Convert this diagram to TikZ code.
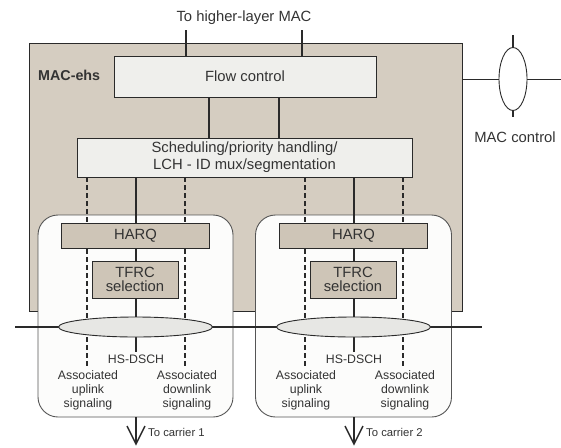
\documentclass[tikz,border=0pt]{standalone}
\usepackage{fontspec}
\setmainfont{Liberation Sans}
\usetikzlibrary{shapes.geometric}

\definecolor{ehsfill}{HTML}{D5CDC1}
\definecolor{unitfill}{HTML}{CEC5B7}
\definecolor{ctrlfill}{HTML}{EFEFEC}
\definecolor{lensfill}{HTML}{E7E7E4}
\definecolor{carrierfill}{HTML}{FCFCFB}
\definecolor{ink}{HTML}{2A2A2A}
\definecolor{txt}{HTML}{333333}

\tikzset{
  box/.style={draw=ink, line width=0.9pt, inner sep=0pt, outer sep=0pt, text=txt,
              font=\fontsize{14.8}{17}\selectfont, align=center},
  ctrlbox/.style={box, fill=ctrlfill},
  unitbox/.style={box, fill=unitfill},
  carrierbox/.style={draw=ink!80, line width=0.9pt, fill=carrierfill, rounded corners=20pt,
                     inner sep=0pt, outer sep=0pt},
  lens/.style={ellipse, draw=ink, line width=0.9pt, fill=lensfill, inner sep=0pt, outer sep=0pt},
  heavy/.style={draw=ink, line width=2.6pt},
  chan/.style={draw=ink, line width=1.4pt},
  sig/.style={draw=ink, line width=1.3pt, dash pattern=on 5pt off 3pt},
  bus/.style={draw=ink, line width=1.4pt},
  small/.style={text=txt, font=\fontsize{12.3}{14}\selectfont, align=center, inner sep=0pt},
  label/.style={text=txt, font=\fontsize{14.8}{17}\selectfont, inner sep=0pt},
  down/.style={draw=ink, line width=1.5pt},
  barb/.style={draw=ink, line width=1.5pt, line join=miter},
}

\begin{document}
\begin{tikzpicture}[x=1pt,y=-1pt]
\useasboundingbox (0,0) rectangle (561,447);

% MAC-ehs entity
\node[draw=ink, line width=0.9pt, fill=ehsfill, anchor=north west, minimum width=433pt,
      minimum height=268pt, inner sep=0pt, outer sep=0pt] (ehs) at (29,43) {};

% per-carrier blocks
\node[carrierbox, minimum width=195pt, minimum height=202pt] (c1) at (135.5,316) {};
\node[carrierbox, minimum width=196pt, minimum height=202pt] (c2) at (353.5,316) {};

% MAC control
\coordinate (mcR) at (561,79);
\coordinate (mcT) at (513,35);
\coordinate (mcB) at (513,117);
\draw[bus, line width=1pt] (ehs.east |- mcR) -- (mcR);
\node[lens, fill=white, minimum width=28pt, minimum height=63pt] (mc) at (513,79) {};
\draw[bus, line width=1.3pt] (mcT) -- (mc.north);
\draw[bus, line width=1.3pt] (mc.south) -- (mcB);
\node[label] (mclab) at (515,137) {MAC control};

% header and upper blocks
\node[label] (top) at (244,18) {To higher-layer MAC};
\node[label, font=\bfseries\fontsize{14.3}{17}\selectfont, anchor=west] (ehslab) at (38,75) {MAC-ehs};

\node[ctrlbox, minimum width=262pt, minimum height=41pt] (flow) at (245,76.5) {Flow control};
\node[ctrlbox, minimum width=335pt, minimum height=39pt] (sched) at (244.5,157.5)
     {Scheduling/priority handling/\\LCH - ID mux/segmentation};

\coordinate (up1) at (186,30);
\coordinate (up2) at (302,30);
\draw[heavy] (up1) -- (up1 |- flow.north);
\draw[heavy] (up2) -- (up2 |- flow.north);
\coordinate (fs1) at (209,0);
\coordinate (fs2) at (279,0);
\draw[heavy] (flow.south -| fs1) -- (sched.north -| fs1);
\draw[heavy] (flow.south -| fs2) -- (sched.north -| fs2);

% carrier bus line
\coordinate (busL) at (15,327);
\coordinate (busR) at (482,327);
\draw[bus] (busL) -- (busR);

% channels down through each carrier block
\foreach \n/\cx in {1/136, 2/354} {
  \coordinate (ul\n) at (\cx-49,368);
  \coordinate (hs\n) at (\cx,352);
  \coordinate (dl\n) at (\cx+49,368);
  \draw[sig]  (sched.south -| ul\n) -- (ul\n);
  \draw[sig]  (sched.south -| dl\n) -- (dl\n);
  \draw[chan] (sched.south -| hs\n) -- (hs\n);
  \node[unitbox, minimum width=148pt, minimum height=25pt] (harq\n) at (\cx-0.5,235.5) {HARQ};
  \node[unitbox, minimum width=86pt, minimum height=37pt] (tfrc\n) at (\cx-1,279.5) {TFRC\\[-3pt]selection};
  \node[lens, minimum width=154pt, minimum height=20pt] (mux\n) at (\cx-0.5,327) {};
  \node[small] (hslab\n) at (\cx,359) {HS-DSCH};
  \node[small] (ullab\n) at (\cx-48,390) {Associated\\uplink\\signaling};
  \node[small] (dllab\n) at (\cx+51,390) {Associated\\downlink\\signaling};
  % open V arrow towards the carrier
  \coordinate (tip\n) at (\cx,444);
  \draw[down] (c\n.south -| tip\n) -- (tip\n);
  \draw[barb] (tip\n) ++(-9,-18) -- (tip\n) -- ++(9,-18);
  \node[small, font=\fontsize{11.3}{13}\selectfont, anchor=west] (car\n) at (\cx+12,432) {To carrier \n};
}
\end{tikzpicture}
\end{document}
